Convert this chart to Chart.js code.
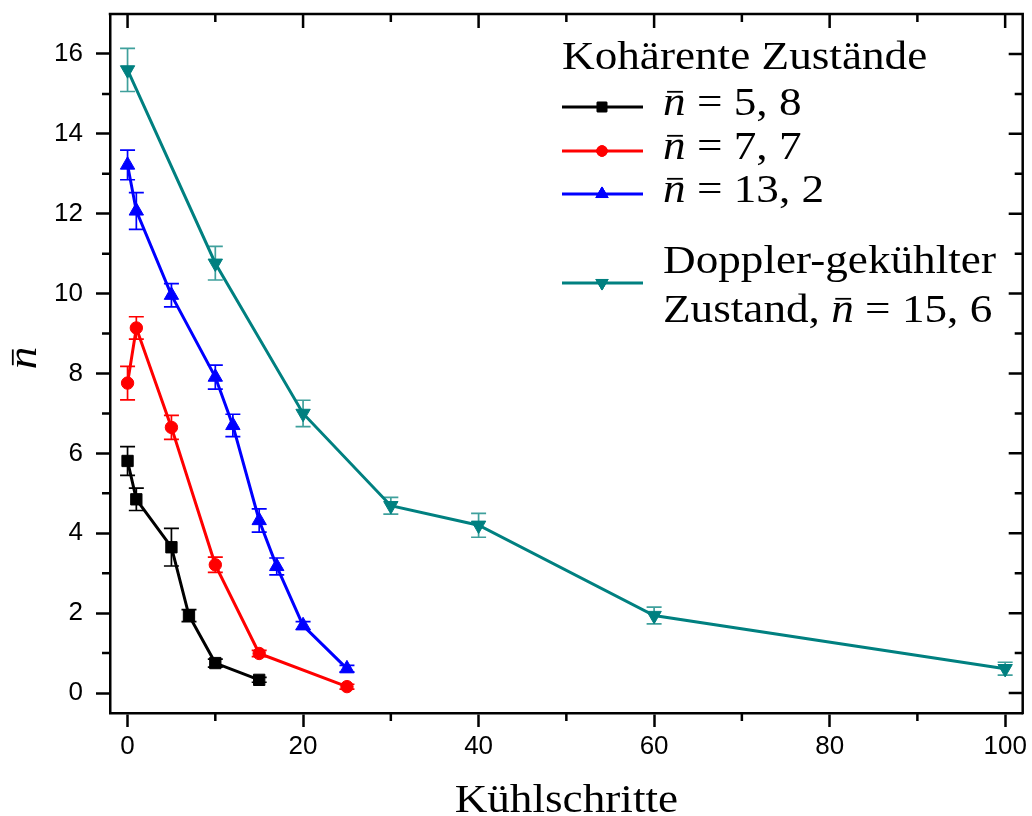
<!DOCTYPE html>
<html><head><meta charset="utf-8">
<script src="https://cdn.jsdelivr.net/npm/chart.js@4/dist/chart.umd.min.js"></script>
<style>html,body{margin:0;padding:0;background:#fff}#wrap{width:1032px;height:816px}</style>
</head><body><div id="wrap"><canvas id="c" width="1032" height="816"></canvas></div>
<script>
// ---- data ----
const blackX = [0, 1, 5, 7, 10, 15];
const blackY = [5.81, 4.85, 3.65, 1.94, 0.75, 0.33];
const blackErr = [0.36, 0.28, 0.47, 0.15, 0.10, 0.06];

const redX = [0, 1, 5, 10, 15, 25];
const redY = [7.76, 9.14, 6.65, 3.21, 0.99, 0.16];
const redErr = [0.42, 0.28, 0.30, 0.19, 0.08, 0.06];

const blueX = [0, 1, 5, 10, 12, 15, 17, 20, 25];
const blueY = [13.22, 12.07, 9.96, 7.91, 6.70, 4.32, 3.17, 1.69, 0.61];
const blueErr = [0.37, 0.46, 0.29, 0.30, 0.28, 0.29, 0.21, 0.10, 0.08];

const tealX = [0, 10, 20, 30, 40, 60, 100];
const tealY = [15.60, 10.76, 7.00, 4.69, 4.20, 1.94, 0.61];
const tealErr = [0.54, 0.42, 0.33, 0.21, 0.30, 0.21, 0.16];

const xMajorTicks = [0, 20, 40, 60, 80, 100];
const xMinorTicks = [10, 30, 50, 70, 90];
const yMajorTicks = [0, 2, 4, 6, 8, 10, 12, 14, 16];
const yMinorTicks = [1, 3, 5, 7, 9, 11, 13, 15];

const legendTitle = 'Kohärente Zustände';
const seriesValues = ['5, 8', '7, 7', '13, 2'];
const dopplerLine1 = 'Doppler-gekühlter';
const dopplerLine2 = 'Zustand, ';
const dopplerValue = '15, 6';
const xTitle = 'Kühlschritte';

// ---- helpers ----
const SX = 1.13;
const SERIF = '"Liberation Serif", "DejaVu Serif", serif';
function serif(ctx, text, x, y, size, italic) {
  ctx.save();
  ctx.font = (italic ? 'italic ' : '') + size + 'px ' + SERIF;
  ctx.textAlign = 'left';
  ctx.textBaseline = 'alphabetic';
  ctx.fillStyle = '#000';
  ctx.translate(x, y);
  ctx.scale(SX, 1);
  ctx.fillText(text, 0, 0);
  const w = ctx.measureText(text).width * SX;
  ctx.restore();
  return w;
}
function textWidth(ctx, text, size, italic) {
  ctx.save();
  ctx.font = (italic ? 'italic ' : '') + size + 'px ' + SERIF;
  const w = ctx.measureText(text).width * SX;
  ctx.restore();
  return w;
}
function nbar(ctx, x, y, size) {
  const w = serif(ctx, 'n', x, y, size, true);
  ctx.save();
  ctx.strokeStyle = '#000';
  ctx.lineWidth = size * 0.045;
  ctx.beginPath();
  ctx.moveTo(x + w * 0.18, y - size * 0.58);
  ctx.lineTo(x + w * 0.88, y - size * 0.58);
  ctx.stroke();
  ctx.restore();
  return w;
}
function mark(ctx, style, rotation, radius, color, x, y) {
  ctx.save();
  ctx.fillStyle = color;
  ctx.strokeStyle = color;
  ctx.lineWidth = 1;
  if (Chart.helpers && Chart.helpers.drawPoint) {
    Chart.helpers.drawPoint(ctx, {pointStyle: style, rotation: rotation, radius: radius, borderWidth: 1}, x, y);
    ctx.fill(); ctx.stroke();
  }
  ctx.restore();
}
function toPts(xs, ys) { return xs.map((x, i) => ({x: x, y: ys[i]})); }

const errorBars = {
  id: 'errorBars',
  beforeDatasetsDraw(chart) {
    const ctx = chart.ctx, ys = chart.scales.y;
    chart.data.datasets.forEach((ds, i) => {
      const meta = chart.getDatasetMeta(i);
      ctx.save();
      ctx.strokeStyle = ds.errorColor;
      ctx.lineWidth = 1.7;
      meta.data.forEach((pt, j) => {
        const v = ds.data[j].y, e = ds.errors[j];
        const yt = ys.getPixelForValue(v + e), yb = ys.getPixelForValue(v - e);
        const x = pt.x;
        ctx.beginPath();
        ctx.moveTo(x, yt); ctx.lineTo(x, yb);
        ctx.moveTo(x - 7.5, yt); ctx.lineTo(x + 7.5, yt);
        ctx.moveTo(x - 7.5, yb); ctx.lineTo(x + 7.5, yb);
        ctx.stroke();
      });
      ctx.restore();
    });
  }
};

const frameAndDecor = {
  id: 'frameAndDecor',
  afterDraw(chart) {
    const ctx = chart.ctx, a = chart.chartArea;
    const xs = chart.scales.x, ys = chart.scales.y;
    ctx.save();
    ctx.strokeStyle = '#000';
    ctx.lineWidth = 2.5;
    ctx.lineCap = 'butt';
    ctx.beginPath();
    ctx.moveTo(a.left - 1.25, a.top); ctx.lineTo(a.right + 1.25, a.top);
    ctx.moveTo(a.right, a.top); ctx.lineTo(a.right, a.bottom + 1.25);
    ctx.stroke();
    ctx.beginPath();
    xMinorTicks.forEach(v => { const p = xs.getPixelForValue(v); ctx.moveTo(p, a.bottom); ctx.lineTo(p, a.bottom + 8); });
    yMinorTicks.forEach(v => { const p = ys.getPixelForValue(v); ctx.moveTo(a.left, p); ctx.lineTo(a.left - 8, p); });
    xMajorTicks.forEach(v => { const p = xs.getPixelForValue(v); ctx.moveTo(p, a.top); ctx.lineTo(p, a.top + 14); });
    xMinorTicks.forEach(v => { const p = xs.getPixelForValue(v); ctx.moveTo(p, a.top); ctx.lineTo(p, a.top + 8); });
    yMajorTicks.forEach(v => { const p = ys.getPixelForValue(v); ctx.moveTo(a.right, p); ctx.lineTo(a.right - 14, p); });
    yMinorTicks.forEach(v => { const p = ys.getPixelForValue(v); ctx.moveTo(a.right, p); ctx.lineTo(a.right - 8, p); });
    ctx.stroke();
    ctx.restore();

    // axis titles
    const tw = textWidth(ctx, xTitle, 40, false);
    serif(ctx, xTitle, (a.left + a.right) / 2 - tw / 2, 812, 40, false);
    ctx.save();
    ctx.translate(36, 358);
    ctx.rotate(-Math.PI / 2);
    const nw = textWidth(ctx, 'n', 40, true);
    nbar(ctx, -nw / 2, 0, 40);
    ctx.restore();

    // legend
    const ds = chart.data.datasets;
    const lx0 = 562, lx1 = 643, mx = 602, tx = 663;
    serif(ctx, legendTitle, 562, 69, 40, false);
    const rows = [107, 151, 194];
    for (let i = 0; i < 3; i++) {
      const d = ds[i];
      ctx.save();
      ctx.strokeStyle = d.borderColor; ctx.lineWidth = 3;
      ctx.beginPath(); ctx.moveTo(lx0, rows[i]); ctx.lineTo(lx1, rows[i]); ctx.stroke();
      ctx.restore();
      mark(ctx, d.pointStyle, d.pointRotation || 0, d.pointRadius * 0.85, d.borderColor, mx, rows[i]);
      const base = rows[i] + 8;
      let x = tx + nbar(ctx, tx, base, 40);
      serif(ctx, ' = ' + seriesValues[i], x, base, 40, false);
    }
    const d = ds[3];
    ctx.save();
    ctx.strokeStyle = d.borderColor; ctx.lineWidth = 3;
    ctx.beginPath(); ctx.moveTo(lx0, 283); ctx.lineTo(lx1, 283); ctx.stroke();
    ctx.restore();
    mark(ctx, d.pointStyle, d.pointRotation || 0, d.pointRadius * 0.85, d.borderColor, mx, 283);
    serif(ctx, dopplerLine1, tx, 273, 40, false);
    let x2 = tx + serif(ctx, dopplerLine2, tx, 322, 40, false);
    x2 += nbar(ctx, x2, 322, 40);
    serif(ctx, ' = ' + dopplerValue, x2, 322, 40, false);
  }
};

function ds(xs, yv, err, color, errColor, style, radius, rot) {
  return {
    data: toPts(xs, yv), errors: err, errorColor: errColor,
    borderColor: color, backgroundColor: color, borderWidth: 3,
    pointStyle: style, pointRadius: radius, pointRotation: rot || 0,
    pointBackgroundColor: color, pointBorderColor: color, pointBorderWidth: 1,
    tension: 0, fill: false
  };
}

const tickFont = {family: '"Liberation Sans", Arial, sans-serif', size: 26};

new Chart(document.getElementById('c'), {
  type: 'line',
  data: {
    datasets: [
      ds(blackX, blackY, blackErr, '#000000', '#000000', 'rect', 8),
      ds(redX, redY, redErr, '#ff0000', '#ff0000', 'circle', 6.2),
      ds(blueX, blueY, blueErr, '#0000ff', '#0000ff', 'triangle', 8.3),
      ds(tealX, tealY, tealErr, '#008080', '#3fa09c', 'triangle', 8.3, 180)
    ]
  },
  options: {
    responsive: false,
    animation: false,
    devicePixelRatio: 1,
    layout: {padding: {top: 14, right: 7, left: 0, bottom: 0}},
    plugins: {legend: {display: false}, tooltip: {enabled: false}, title: {display: false}},
    scales: {
      x: {
        type: 'linear', min: -2, max: 102,
        afterBuildTicks: s => { s.ticks = xMajorTicks.map(v => ({value: v})); },
        afterFit: s => { s.height = 103; s.paddingLeft = 0; s.paddingRight = 0; },
        grid: {display: true, drawOnChartArea: false, drawTicks: true, tickLength: 14, tickWidth: 2.5, tickColor: '#000', color: '#000'},
        border: {display: true, color: '#000', width: 2.5},
        ticks: {color: '#000', padding: 4, font: tickFont, maxRotation: 0}
      },
      y: {
        type: 'linear', min: -0.5, max: 17,
        afterBuildTicks: s => { s.ticks = yMajorTicks.map(v => ({value: v})); },
        afterFit: s => { s.width = 110; s.paddingTop = 0; s.paddingBottom = 0; },
        grid: {display: true, drawOnChartArea: false, drawTicks: true, tickLength: 14, tickWidth: 2.5, tickColor: '#000', color: '#000'},
        border: {display: true, color: '#000', width: 2.5},
        ticks: {color: '#000', padding: 13, font: tickFont}
      }
    }
  },
  plugins: [errorBars, frameAndDecor]
});
</script>
</body></html>
